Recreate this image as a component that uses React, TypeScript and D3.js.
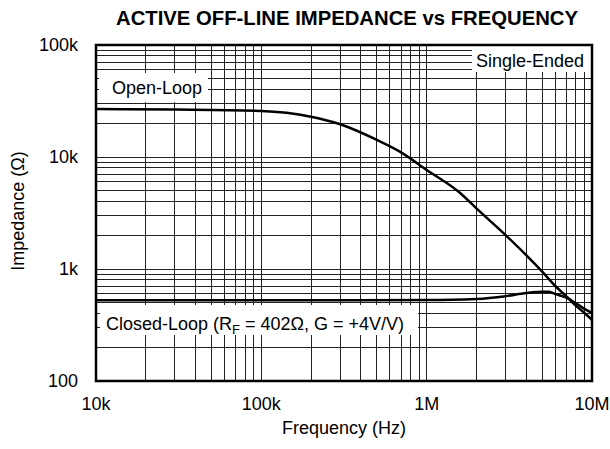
import React from 'react';
import * as d3 from 'd3';

// open-loop curve
const openFreq = [1e4, 3e4, 1e5, 2e5, 3e5, 5e5, 7e5, 1e6, 1.6e6, 2e6, 3e6, 4e6, 5e6, 6e6, 7e6, 8e6, 9e6, 1e7];
const openZ = [26800, 26500, 25800, 22900, 19600, 14200, 11000, 7660, 4750, 3480, 2010, 1330, 946, 705, 570, 470, 405, 352];

// closed-loop curve
const closedFreq = [1e4, 1e5, 1e6, 2e6, 3e6, 4e6, 5e6, 5.5e6, 6e6, 7e6, 8e6, 9e6, 1e7];
const closedZ = [525, 525, 528, 540, 572, 610, 627, 625, 598, 555, 494, 440, 405];

const xTicks = [1e4, 1e5, 1e6, 1e7];
const xTickLabels = ['10k', '100k', '1M', '10M'];
const yTicks = [100, 1000, 10000, 100000];
const yTickLabels = ['100', '1k', '10k', '100k'];

const W = 610, H = 449;
const left = 96, right = 592, top = 45, bottom = 381;
const font = '"Liberation Sans", Arial, Helvetica, sans-serif';

function gridValues(lo: number, hi: number) {
  var out: number[] = [];
  for (var d = lo; d < hi; d *= 10) {
    for (var m = 1; m <= 9; m++) out.push(d * m);
  }
  out.push(hi);
  return out;
}

export default function App() {
  const x = d3.scaleLog().domain([1e4, 1e7]).range([left, right]);
  const y = d3.scaleLog().domain([100, 100000]).range([bottom, top]);

  const line = d3.line<[number, number]>()
    .x(d => x(d[0]))
    .y(d => y(d[1]))
    .curve(d3.curveMonotoneX);

  const openPath = line(openFreq.map((f, i) => [f, openZ[i]] as [number, number])) || '';
  const closedPath = line(closedFreq.map((f, i) => [f, closedZ[i]] as [number, number])) || '';

  const vgrid = gridValues(1e4, 1e7);
  const hgrid = gridValues(100, 100000);

  return (
    <svg width={W} height={H} style={{ position: 'absolute', left: 0, top: 0, background: '#fff' }}
      fontFamily={font}>
      <rect x={0} y={0} width={W} height={H} fill="#fff" />
      <text x={347} y={25} textAnchor="middle" fontSize={20.3} fontWeight="bold">
        ACTIVE OFF-LINE IMPEDANCE vs FREQUENCY
      </text>

      <g stroke="#222" strokeWidth={1} shapeRendering="crispEdges">
        {vgrid.map((v, i) => (
          <line key={'v' + i} x1={x(v)} x2={x(v)} y1={top} y2={bottom} />
        ))}
        {hgrid.map((v, i) => (
          <line key={'h' + i} x1={left} x2={right} y1={y(v)} y2={y(v)} />
        ))}
      </g>

      <path d={openPath} fill="none" stroke="#000" strokeWidth={2.5} />
      <path d={closedPath} fill="none" stroke="#000" strokeWidth={2.5} />

      {/* label boxes */}
      <rect x={99} y={73} width={109} height={29} fill="#fff" />
      <text x={112} y={94} fontSize={18}>Open-Loop</text>

      <rect x={472} y={46} width={119} height={26} fill="#fff" />
      <text x={476} y={67} fontSize={18}>Single-Ended</text>

      <rect x={100} y={305} width={318} height={30} fill="#fff" />
      <text x={106} y={330} fontSize={18}>
        Closed-Loop (R<tspan fontSize={13} dy={4}>F</tspan><tspan dy={-4}> = 402Ω, G = +4V/V)</tspan>
      </text>

      <rect x={left} y={top} width={right - left} height={bottom - top} fill="none" stroke="#000" strokeWidth={2.5} />

      {xTicks.map((t, i) => (
        <text key={'xt' + i} x={x(t)} y={410} textAnchor="middle" fontSize={18}>{xTickLabels[i]}</text>
      ))}
      {yTicks.map((t, i) => (
        <text key={'yt' + i} x={78} y={y(t) + 6} textAnchor="end" fontSize={18}>{yTickLabels[i]}</text>
      ))}

      <text x={344} y={434} textAnchor="middle" fontSize={18}>Frequency (Hz)</text>
      <text transform="translate(24,211) rotate(-90)" textAnchor="middle" fontSize={18}>Impedance (Ω)</text>
    </svg>
  );
}
